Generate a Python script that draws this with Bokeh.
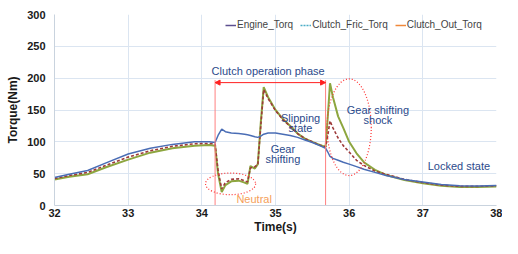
from bokeh.plotting import figure
from bokeh.models import Legend, LegendItem, Arrow, NormalHead, FixedTicker, ColumnDataSource
from bokeh.core.properties import value
from bokeh.embed import file_html
from bokeh.resources import INLINE

time_s = [32.0, 32.2, 32.45, 32.7, 33.0, 33.3, 33.6, 33.9, 34.1, 34.18, 34.22, 34.27, 34.32, 34.4,
          34.5, 34.58, 34.62, 34.66, 34.72, 34.76, 34.8, 34.84, 34.9, 35.0, 35.1, 35.2, 35.3, 35.4,
          35.5, 35.6, 35.68, 35.71, 35.74, 35.78, 35.85, 35.92, 36.0, 36.1, 36.2, 36.35, 36.5,
          36.75, 37.0, 37.25, 37.5, 37.75, 38.0]
engine_torq = [44, 49, 55, 67, 81, 90, 96, 100, 100, 99, 110, 120, 116, 114,
               113, 112, 111, 110, 108, 107, 109, 112, 114, 114, 112, 110, 107, 103,
               99, 94, 90, 84, 77, 74, 71, 68, 65, 61, 57, 52, 47,
               41, 37, 33, 31, 30.5, 31.5]
clutch_fric_torq = [42.5, 47, 52, 63, 76, 86, 93, 97, 97.5, 97, 55, 26, 36, 41,
                    42, 39, 37, 59, 61, 64, 125, 182, 168, 149, 135, 124, 113, 105,
                    100, 95, 92, 110, 133, 122, 106, 94, 84, 71, 63, 54, 49,
                    41, 36, 32, 30, 30, 31]
clutch_out_torq = [41, 45, 49, 60, 72, 83, 90, 94, 95, 94, 50, 21, 32, 38,
                   39, 36, 34, 62, 58, 65, 130, 186, 170, 150, 136, 125, 113, 105,
                   100, 95, 92, 140, 192, 170, 140, 122, 100, 82, 68, 56, 48,
                   40, 35, 31, 29, 29, 30]

x_ticks = [32, 33, 34, 35, 36, 37, 38]
y_ticks = [0, 50, 100, 150, 200, 250, 300]

phase_bounds = [34.18, 35.68]
phase_top = 197
arrow_y = 193

ann_texts = ["Clutch operation phase", "Slipping", "state", "Gear", "shifting",
             "Gear shifting", "shock", "Locked state"]
ann_x = [34.9, 35.34, 35.34, 35.1, 35.1, 36.39, 36.39, 37.49]
ann_y = [212, 137, 122, 88, 73.5, 150, 134, 62]

neutral_text = ["Neutral"]
neutral_x = [34.71]
neutral_y = [10]

ell_x = [34.39, 36.0]
ell_y = [34, 123]
ell_w = [0.68, 0.6]
ell_h = [34, 152]

p = figure(width=502, height=238, x_range=(32, 38), y_range=(0, 300),
           output_backend="svg", toolbar_location=None,
           min_border_left=54, min_border_right=6, min_border_top=14, min_border_bottom=33)
p.outline_line_color = None
p.background_fill_color = "white"

for ax in (p.xaxis, p.yaxis):
    ax.axis_line_color = "#c9d3de"
    ax.major_tick_line_color = None
    ax.minor_tick_line_color = None
    ax.major_tick_out = 0
    ax.major_tick_in = 0
    ax.major_label_text_font = "Liberation Sans"
    ax.major_label_text_font_style = "bold"
    ax.major_label_text_font_size = "11px"
    ax.major_label_text_color = "#1a1a1a"
    ax.axis_label_text_font = "Liberation Sans"
    ax.axis_label_text_font_style = "bold"
    ax.axis_label_text_font_size = "12px"
    ax.axis_label_text_color = "#1a1a1a"

p.xaxis.ticker = FixedTicker(ticks=x_ticks)
p.yaxis.ticker = FixedTicker(ticks=y_ticks)
p.xaxis.axis_label = "Time(s)"
p.yaxis.axis_label = "Torque(Nm)"
p.xaxis.major_label_standoff = 3
p.xaxis.axis_label_standoff = 0
p.yaxis.major_label_standoff = 9
p.yaxis.axis_label_standoff = 4
p.xgrid.grid_line_color = "#dbe5f1"
p.ygrid.grid_line_color = "#dbe5f1"

src = ColumnDataSource(dict(t=time_s, e=engine_torq, f=clutch_fric_torq, o=clutch_out_torq))
p.line("t", "o", source=src, line_color="#8da63f", line_width=2)
p.line("t", "f", source=src, line_color="#9e3a3a", line_width=1.6, line_dash="3 2")
p.line("t", "e", source=src, line_color="#4a6db5", line_width=1.5)

# phase markers
for xb in phase_bounds:
    p.segment(x0=[xb], y0=[0], x1=[xb], y1=[phase_top], line_color="#ff8080", line_width=1)
p.add_layout(Arrow(start=NormalHead(size=5, fill_color="#ff2020", line_color="#ff2020"),
                   end=NormalHead(size=5, fill_color="#ff2020", line_color="#ff2020"),
                   x_start=phase_bounds[0], x_end=phase_bounds[1], y_start=arrow_y, y_end=arrow_y,
                   line_color="#ff2020", line_width=1))

p.ellipse(x=ell_x, y=ell_y, width=ell_w, height=ell_h, fill_color=None,
          line_color="#ff3030", line_width=1.2, line_dash="1 2")

p.text(x=ann_x, y=ann_y, text=ann_texts, text_font=value("Liberation Sans"),
       text_font_size="11px", text_color="#2b4a8b", text_align="center", text_baseline="middle")
p.text(x=neutral_x, y=neutral_y, text=neutral_text, text_font=value("Liberation Sans"),
       text_font_size="11px", text_color="#f5a05a", text_align="center", text_baseline="middle")

# legend (reference legend swatches)
l1 = p.line(x=[float("nan")], y=[float("nan")], line_color="#5c4f8f", line_width=1.5)
l2 = p.line(x=[float("nan")], y=[float("nan")], line_color="#4bacc6", line_width=1.5, line_dash="2 1")
l3 = p.line(x=[float("nan")], y=[float("nan")], line_color="#f0883a", line_width=1.5)
legend = Legend(items=[LegendItem(label="Engine_Torq", renderers=[l1]),
                       LegendItem(label="Clutch_Fric_Torq", renderers=[l2]),
                       LegendItem(label="Clutch_Out_Torq", renderers=[l3])],
                orientation="horizontal", location=(171, 175),
                border_line_color=None, background_fill_alpha=0,
                label_text_font="Liberation Sans", label_text_font_size="10px",
                glyph_width=11, glyph_height=8, label_standoff=1, spacing=7,
                padding=0, margin=0, label_height=10)
p.add_layout(legend)

open("out.html", "w").write(file_html(p, INLINE))
